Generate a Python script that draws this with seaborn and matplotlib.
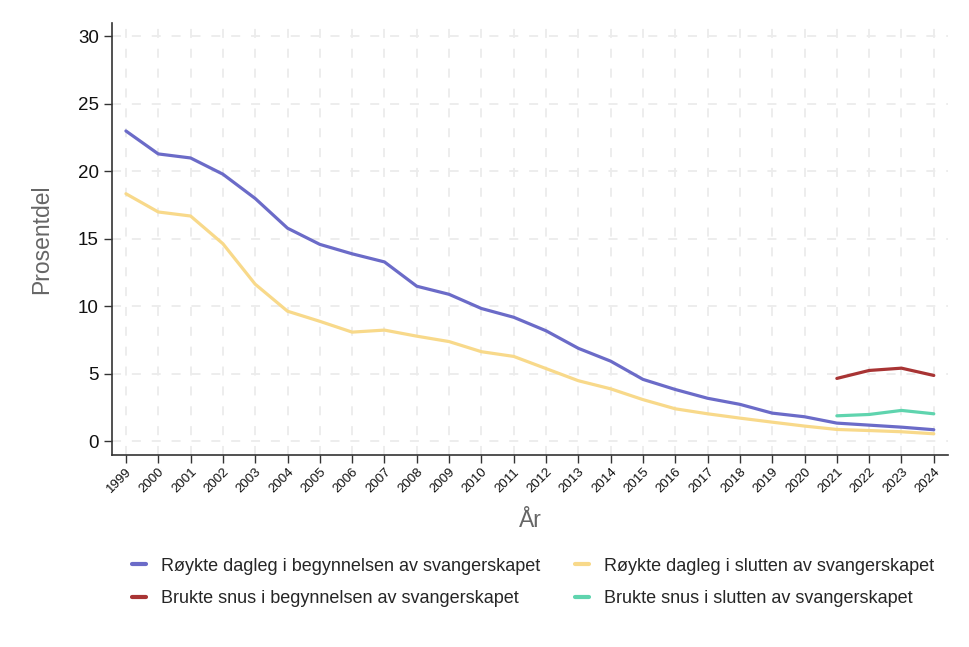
import numpy as np
import pandas as pd
import matplotlib
matplotlib.use("Agg")
import matplotlib.pyplot as plt
from matplotlib.lines import Line2D
import seaborn as sns

years = list(range(1999, 2025))
roykte_start = [23.0, 21.3, 21.0, 19.8, 18.0, 15.8, 14.6, 13.9, 13.3, 11.5, 10.9, 9.85,
                9.2, 8.2, 6.9, 5.95, 4.6, 3.85, 3.2, 2.75, 2.1, 1.83, 1.36, 1.21, 1.06, 0.87]
roykte_slutt = [18.35, 17.0, 16.7, 14.65, 11.65, 9.65, 8.9, 8.1, 8.25, 7.8, 7.4, 6.65,
                6.3, 5.4, 4.5, 3.9, 3.1, 2.42, 2.05, 1.73, 1.43, 1.14, 0.89, 0.81, 0.72, 0.57]
snus_years = [2021, 2022, 2023, 2024]
snus_start = [4.67, 5.26, 5.43, 4.89]
snus_slutt = [1.9, 2.0, 2.3, 2.05]

labels = ["Røykte dagleg i begynnelsen av svangerskapet",
          "Røykte dagleg i slutten av svangerskapet",
          "Brukte snus i begynnelsen av svangerskapet",
          "Brukte snus i slutten av svangerskapet"]
colors = ["#6b6bc8", "#f8d98a", "#a83434", "#5fd4ae"]

df = pd.concat([
    pd.DataFrame({"År": years, "Prosentdel": roykte_start, "Serie": labels[0]}),
    pd.DataFrame({"År": years, "Prosentdel": roykte_slutt, "Serie": labels[1]}),
    pd.DataFrame({"År": snus_years, "Prosentdel": snus_start, "Serie": labels[2]}),
    pd.DataFrame({"År": snus_years, "Prosentdel": snus_slutt, "Serie": labels[3]}),
], ignore_index=True)

sns.set_style("white")
plt.rcParams["font.family"] = ["Liberation Sans", "DejaVu Sans"]

fig = plt.figure(figsize=(9.7, 6.47), dpi=100)
ax = fig.add_axes([0.1155, 0.2968, 0.8615, 0.6677])

sns.lineplot(data=df, x="År", y="Prosentdel", hue="Serie", hue_order=labels,
             palette=dict(zip(labels, colors)), linewidth=2.3, ax=ax, legend=False)

ax.set_xlim(1998.57, 2024.43)
ax.set_ylim(-1, 31)
ax.set_xticks(years)
ax.set_xticklabels([str(y) for y in years], rotation=45, ha="right",
                   rotation_mode="anchor", fontsize=9.5)
ax.set_yticks([0, 5, 10, 15, 20, 25, 30])
ax.tick_params(axis="y", labelsize=13.5, length=6, width=1, direction="out", left=True,
               color="#333333", labelcolor="#111111")
ax.tick_params(axis="x", length=6, width=1, direction="out", bottom=True, color="#333333",
               pad=2, labelcolor="#111111")
ax.grid(True, color="#ececec", linestyle=(0, (5, 6)), linewidth=1.3)
ax.set_axisbelow(True)
for s in ["top", "right"]:
    ax.spines[s].set_visible(False)
for s in ["left", "bottom"]:
    ax.spines[s].set_color("#333333")
    ax.spines[s].set_linewidth(1.2)

ax.set_xlabel("År", fontsize=16.5, color="#666666", labelpad=10)
ax.set_ylabel("Prosentdel", fontsize=16.5, color="#666666", labelpad=18)

order = [0, 2, 1, 3]
handles = [Line2D([0], [0], color=colors[i], linewidth=3) for i in order]
fig.legend(handles, [labels[i] for i in order], loc="upper left",
           bbox_to_anchor=(0.119, 0.163),
           ncol=2, frameon=False, fontsize=13, handlelength=0.8,
           columnspacing=1.95, handletextpad=0.8, labelspacing=0.85)

fig.savefig("out.png", dpi=100)
